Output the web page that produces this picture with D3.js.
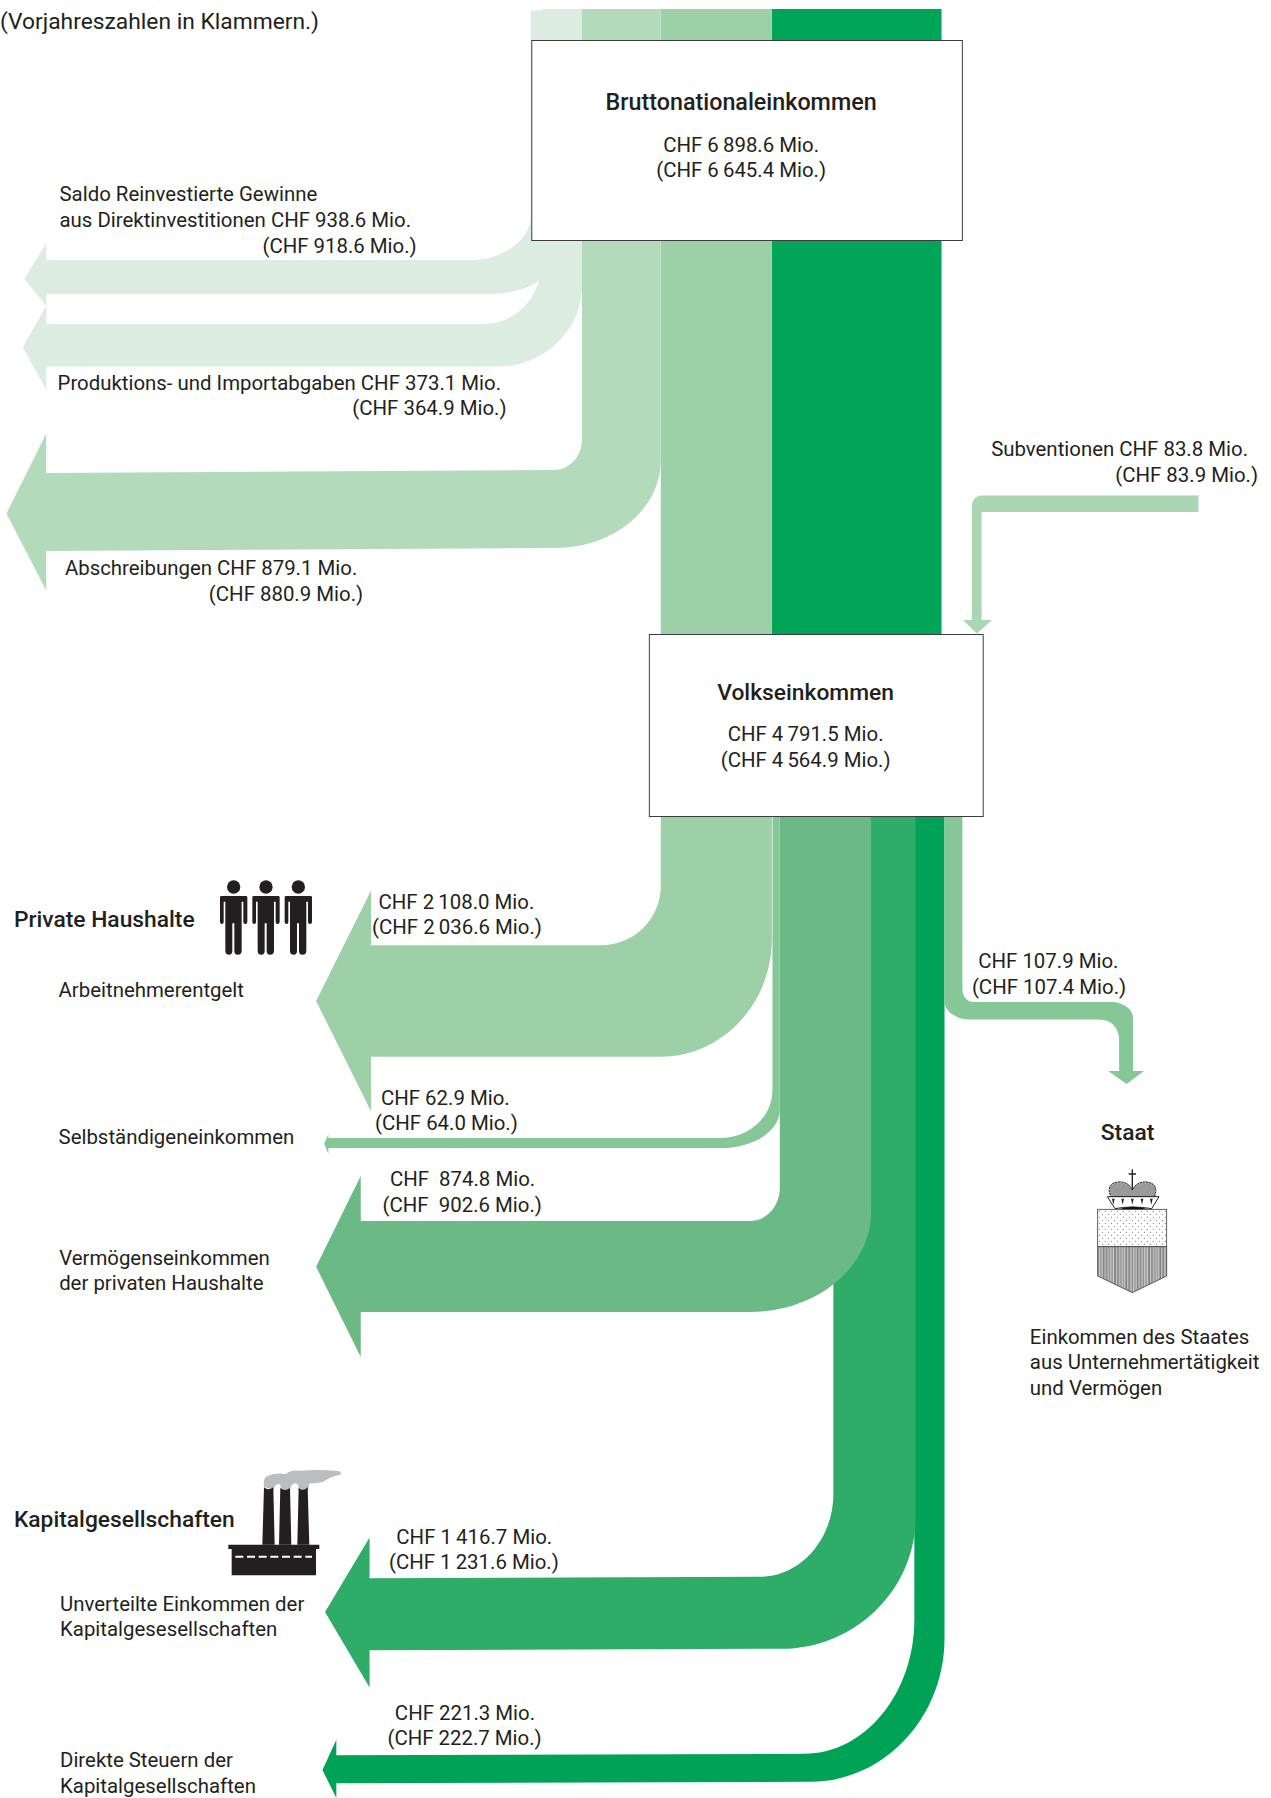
<!DOCTYPE html>
<html lang="de">
<head>
<meta charset="utf-8">
<script src="https://cdn.jsdelivr.net/npm/d3@7"></script>
<style>
    html, body { margin: 0; padding: 0; background: #fff; }
    svg { display: block; }
    text { font-family: Roboto, "Noto Sans", sans-serif; font-size: 20.4px; fill: #231f20; white-space: pre; }
    text.head { font-size: 22.8px; font-weight: 500; }
    text.big { font-size: 23.3px; font-weight: 500; }
    text.note { font-size: 22.8px; }
</style>
</head>
<body>
<svg></svg>
<script>
const width = 1271, height = 1798;

// Values as printed in the chart (CHF Mio.), previous year in the second list
const flowNames = ["saldo", "produktion", "abschreibungen", "arbeitnehmer", "selbstaendig",
    "vermoegen", "unverteilt", "steuern", "staat", "subventionen"];
const flowValues = [938.6, 373.1, 879.1, 2108.0, 62.9, 874.8, 1416.7, 221.3, 107.9, 83.8];
const flowPrevious = [918.6, 364.9, 880.9, 2036.6, 64.0, 902.6, 1231.6, 222.7, 107.4, 83.9];
const flowColors = ["#dcece0", "#dcece0", "#b4dabc", "#9ed0a8", "#86c797",
    "#6bba85", "#2eac68", "#00a356", "#86c797", "#aad6b3"];

const nodeNames = ["Bruttonationaleinkommen", "Volkseinkommen"];
const nodeValues = [6898.6, 4791.5];
const nodePrevious = [6645.4, 4564.9];

// The original is a schematic: band widths do not follow the values, so they are read off the picture
const stemWidth = d3.scaleOrdinal(flowNames, [21, 40.6, 79.4, 112, 7.4, 92, 83, 30.4, 18, 9.8]);
const barWidth = d3.scaleOrdinal(flowNames, [34, 42.5, 78, 111.5, 10, 91, 72, 28, 17.6, 16.5]);
const flowColor = d3.scaleOrdinal(flowNames, flowColors);

// horizontal readings were taken at a slightly different scale than the page
const x = d3.scaleLinear([0, 1271], [0, 1261]);

const locale = d3.formatLocale({ decimal: ".", thousands: "\u2009", grouping: [3], currency: ["", ""] });
const fmt = locale.format(",.1f");
const chf = (v, sep = " ") => `CHF${sep}${fmt(v)} Mio.`;
const value = name => flowValues[flowNames.indexOf(name)];
const previous = name => flowPrevious[flowNames.indexOf(name)];

const svg = d3.select("svg").attr("width", width).attr("height", height);

// Left-pointing arrows, back to front
const routes = [
    { name: "saldo", stem: 535, y0: 10.6, innerY: 216, innerX: 474, top: 260, outerY: 260, outerX: 494, drift: 0, headX: 46.6, tipX: 24.5, tipY: 279, barbTop: 243, barbBot: 306 },
    { name: "produktion", stem: 546, y0: 9, innerY: 262, innerX: 488.6, top: 324, outerY: 286, outerX: 502, drift: 0, headX: 46.6, tipX: 23, tipY: 347, barbTop: 306, barbBot: 390 },
    { name: "abschreibungen", stem: 586.6, y0: 9, innerY: 440, innerX: 558, top: 470, outerY: 461, outerX: 560, drift: 3, headX: 46.6, tipX: 6.5, tipY: 513.5, barbTop: 433.5, barbBot: 590.6 },
    { name: "steuern", stem: 921.6, y0: 800, innerY: 1619.5, innerX: 811, top: 1753.8, outerY: 1638.6, outerX: 817, drift: 1.5, headX: 339, tipX: 325, tipY: 1770, barbTop: 1739.7, barbBot: 1798 },
    { name: "unverteilt", stem: 840, y0: 800, innerY: 1493.7, innerX: 766, top: 1576.8, outerY: 1516.5, outerX: 788, drift: 1.5, headX: 372.5, tipX: 327.6, tipY: 1612, barbTop: 1537.5, barbBot: 1687.4 },
    { name: "vermoegen", stem: 786, y0: 800, innerY: 1188, innerX: 756, top: 1221, outerY: 1212, outerX: 756, drift: 0, headX: 363.6, tipX: 318.6, tipY: 1266.7, barbTop: 1176, barbBot: 1357 },
    { name: "selbstaendig", stem: 778.6, y0: 800, innerY: 1090, innerX: 727, top: 1138, outerY: 1110, outerX: 727, drift: 0, headX: 331, tipX: 326.8, tipY: 1143.7, barbTop: 1134, barbBot: 1154 },
    { name: "arbeitnehmer", stem: 666, y0: 800, innerY: 886, innerX: 606, top: 945.3, outerY: 939, outerX: 666, drift: 0, headX: 374, tipX: 318.6, tipY: 1001, barbTop: 890.6, barbBot: 1111.4 }
];

const k = 0.55;
function arrowPath(r) {
    const stemR = r.stem + stemWidth(r.name);
    const bot = r.top + barWidth(r.name);
    const p = d3.path();
    p.moveTo(x(r.stem), r.y0);
    p.lineTo(x(r.stem), r.innerY);
    p.bezierCurveTo(x(r.stem), r.innerY + k * (r.top - r.innerY), x(r.innerX + k * (r.stem - r.innerX)), r.top, x(r.innerX), r.top);
    p.lineTo(x(r.headX), r.top + r.drift);
    p.lineTo(x(r.headX), r.barbTop);
    p.lineTo(x(r.tipX), r.tipY);
    p.lineTo(x(r.headX), r.barbBot);
    p.lineTo(x(r.headX), bot + r.drift);
    p.lineTo(x(r.outerX), bot);
    p.bezierCurveTo(x(r.outerX + k * (stemR - r.outerX)), bot, x(stemR), r.outerY + k * (bot - r.outerY), x(stemR), r.outerY);
    p.lineTo(x(stemR), r.y0);
    p.closePath();
    return p.toString();
}

// Straight part of the trunk that runs through both boxes
svg.append("rect").attr("x", x(778)).attr("y", 9).attr("width", x(949) - x(778)).attr("height", 630).attr("fill", "#00a558");
svg.append("rect").attr("x", x(666)).attr("y", 9).attr("width", x(778) - x(666)).attr("height", 800).attr("fill", flowColor("arbeitnehmer"));

svg.selectAll("path.flow")
    .data(routes)
    .enter().append("path")
    .attr("class", "flow")
    .attr("d", arrowPath)
    .attr("fill", d => flowColor(d.name));

// Staat: leaves the box downwards, runs right, ends pointing down
{
    const w = stemWidth("staat"), x0 = 952, top = 1002, bot = top + barWidth("staat");
    const p = d3.path();
    p.moveTo(x(x0), 800);
    p.lineTo(x(x0), 1002);
    p.bezierCurveTo(x(x0), 1012, x(966), bot, x(976), bot);
    p.lineTo(x(1108), bot);
    p.bezierCurveTo(x(1120), bot, x(1128), 1028, x(1128), 1040);
    p.lineTo(x(1128), 1071);
    p.lineTo(x(1117), 1071);
    p.lineTo(x(1135.6), 1084);
    p.lineTo(x(1153), 1071);
    p.lineTo(x(1142), 1071);
    p.lineTo(x(1142), 1018);
    p.bezierCurveTo(x(1142), 1008, x(1130), top, x(1120), top);
    p.lineTo(x(982), top);
    p.bezierCurveTo(x(974), top, x(x0 + w), 996, x(x0 + w), 988);
    p.lineTo(x(x0 + w), 800);
    p.closePath();
    svg.append("path").attr("d", p.toString()).attr("fill", flowColor("staat"));
}

// Subventionen: comes in from the right, ends pointing down on the Volkseinkommen box
{
    const top = 495.5, bot = top + barWidth("subventionen"), xL = 979.6, xR = xL + stemWidth("subventionen");
    const p = d3.path();
    p.moveTo(x(1208), top);
    p.lineTo(x(990), top);
    p.bezierCurveTo(x(984), top, x(xL), 500, x(xL), 506);
    p.lineTo(x(xL), 620);
    p.lineTo(x(970.6), 620);
    p.lineTo(x(984.5), 633.5);
    p.lineTo(x(1000), 620);
    p.lineTo(x(xR), 620);
    p.lineTo(x(xR), bot);
    p.lineTo(x(1208), bot);
    p.closePath();
    svg.append("path").attr("d", p.toString()).attr("fill", flowColor("subventionen"));
}

// Boxes
const boxes = [
    { x0: 536, y: 40.5, x1: 970, h: 200, cx: 747, y1: 110.4, y2: 152, y3: 177 },
    { x0: 654.5, y: 634.5, x1: 991, h: 182, cx: 812, y1: 700, y2: 741, y3: 766.5 }
];
const boxG = svg.selectAll("g.box").data(boxes).enter().append("g").attr("class", "box");
boxG.append("rect")
    .attr("x", d => x(d.x0)).attr("y", d => d.y)
    .attr("width", d => x(d.x1) - x(d.x0)).attr("height", d => d.h)
    .attr("fill", "#fff").attr("stroke", "#3c3c3c").attr("stroke-width", 1);
boxG.append("text").attr("class", (d, i) => i === 0 ? "big" : "head").attr("text-anchor", "middle")
    .attr("x", d => x(d.cx)).attr("y", d => d.y1).text((d, i) => nodeNames[i]);
boxG.append("text").attr("text-anchor", "middle")
    .attr("x", d => x(d.cx)).attr("y", d => d.y2).text((d, i) => chf(nodeValues[i]));
boxG.append("text").attr("text-anchor", "middle")
    .attr("x", d => x(d.cx)).attr("y", d => d.y3).text((d, i) => `(${chf(nodePrevious[i])})`);

// Labels
const labels = [
    { x: 0, y: 28.6, note: true, t: "(Vorjahreszahlen in Klammern.)" },
    { x: 60, y: 200.8, t: "Saldo Reinvestierte Gewinne" },
    { x: 60, y: 226.5, t: `aus Direktinvestitionen ${chf(value("saldo"))}` },
    { x: 420, y: 253, end: true, t: `(${chf(previous("saldo"))})` },
    { x: 58, y: 390, t: `Produktions- und Importabgaben ${chf(value("produktion"))}` },
    { x: 510.6, y: 415, end: true, t: `(${chf(previous("produktion"))})` },
    { x: 999, y: 455.5, t: `Subventionen ${chf(value("subventionen"))}` },
    { x: 1268, y: 481.6, end: true, t: `(${chf(previous("subventionen"))})` },
    { x: 65.4, y: 575, t: `Abschreibungen ${chf(value("abschreibungen"))}` },
    { x: 366, y: 600.8, end: true, t: `(${chf(previous("abschreibungen"))})` },
    { x: 14, y: 927, head: true, t: "Private Haushalte" },
    { x: 381.5, y: 909, t: chf(value("arbeitnehmer")) },
    { x: 375, y: 934, t: `(${chf(previous("arbeitnehmer"))})` },
    { x: 59, y: 997, t: "Arbeitnehmerentgelt" },
    { x: 986, y: 967.8, t: chf(value("staat")) },
    { x: 979.6, y: 994, t: `(${chf(previous("staat"))})` },
    { x: 1136.5, y: 1140, head: true, middle: true, t: "Staat" },
    { x: 384, y: 1105, t: chf(value("selbstaendig")) },
    { x: 378, y: 1130, t: `(${chf(previous("selbstaendig"))})` },
    { x: 59, y: 1144, t: "Selbständigeneinkommen" },
    { x: 393, y: 1185.7, t: chf(value("vermoegen"), "  ") },
    { x: 385.6, y: 1212, t: `(${chf(previous("vermoegen"), "  ")})` },
    { x: 59.6, y: 1264.8, t: "Vermögenseinkommen" },
    { x: 59.6, y: 1289.6, t: "der privaten Haushalte" },
    { x: 1038, y: 1343.8, t: "Einkommen des Staates" },
    { x: 1038, y: 1369, t: "aus Unternehmertätigkeit" },
    { x: 1038, y: 1394.5, t: "und Vermögen" },
    { x: 14, y: 1527, head: true, t: "Kapitalgesellschaften" },
    { x: 399.5, y: 1543.5, t: chf(value("unverteilt")) },
    { x: 392, y: 1568.8, t: `(${chf(previous("unverteilt"))})` },
    { x: 60.5, y: 1610.8, t: "Unverteilte Einkommen der" },
    { x: 60.5, y: 1636, t: "Kapitalgesesellschaften" },
    { x: 398, y: 1720.4, t: chf(value("steuern")) },
    { x: 390.5, y: 1745, t: `(${chf(previous("steuern"))})` },
    { x: 60.5, y: 1767.4, t: "Direkte Steuern der" },
    { x: 60.5, y: 1793, t: "Kapitalgesellschaften" }
];
svg.selectAll("text.label")
    .data(labels)
    .enter().append("text")
    .attr("class", d => d.head ? "label head" : d.note ? "label note" : "label")
    .attr("x", d => x(d.x)).attr("y", d => d.y)
    .attr("text-anchor", d => d.end ? "end" : d.middle ? "middle" : "start")
    .text(d => d.t);

// Icon: three people
const people = svg.append("g").attr("transform", "translate(200,860) scale(0.3333)");
const personPath = "M64,108 H138 Q142,108 142,112 V186 Q142,192 136,192 Q130,192 130,186 V125 H125 V272 Q125,284 113,284 Q103,284 103,272 V190 H97 V272 Q97,284 87,284 Q76,284 76,272 V125 H71 V186 Q71,192 66,192 Q60,192 60,186 V112 Q60,108 64,108 Z";
[0, 97, 194].forEach(dx => {
    const g = people.append("g").attr("transform", `translate(${dx},0)`).attr("fill", "#231f20");
    g.append("circle").attr("cx", 101).attr("cy", 81).attr("r", 20);
    g.append("path").attr("d", personPath);
});

// Icon: factory
const factory = svg.append("g").attr("transform", "translate(210,1450) scale(0.3333)");
factory.append("path").attr("fill", "#bcbdc0")
    .attr("d", "M162,110 Q158,85 172,78 Q195,68 228,72 Q240,60 270,62 Q330,58 385,63 Q398,68 390,74 Q360,80 340,95 Q315,102 298,100 L295,120 H265 Q268,100 255,100 Q244,100 240,120 H212 Q214,102 205,102 Q195,102 190,120 Z");
factory.append("path").attr("fill", "#231f20")
    .attr("d", "M162,112 Q175,124 190,112 L194,284 H157 Z M211,114 Q225,126 240,114 L244,284 H207 Z M266,114 Q280,126 293,112 L298,284 H262 Z");
factory.append("path").attr("fill", "#231f20")
    .attr("d", "M55,284 H328 V297 H318 V376 H65 V297 H55 Z");
factory.append("line").attr("x1", 76).attr("x2", 306).attr("y1", 320).attr("y2", 320)
    .attr("stroke", "#fff").attr("stroke-width", 6).attr("stroke-dasharray", "24 11");

// Icon: coat of arms
const defs = svg.append("defs");
defs.append("pattern").attr("id", "dots").attr("width", 18).attr("height", 18).attr("patternUnits", "userSpaceOnUse")
    .call(pt => {
        pt.append("circle").attr("cx", 4).attr("cy", 4).attr("r", 1.6).attr("fill", "#555");
        pt.append("circle").attr("cx", 13).attr("cy", 13).attr("r", 1.6).attr("fill", "#555");
    });
defs.append("pattern").attr("id", "stripes").attr("width", 34).attr("height", 24).attr("patternUnits", "userSpaceOnUse")
    .call(pt => {
        pt.append("rect").attr("width", 34).attr("height", 24).attr("fill", "#cfcfcf");
        pt.append("rect").attr("x", 1).attr("width", 4).attr("height", 24).attr("fill", "#666");
        pt.append("rect").attr("x", 9).attr("width", 6).attr("height", 24).attr("fill", "#8a8a8a");
        pt.append("rect").attr("x", 19).attr("width", 3).attr("height", 24).attr("fill", "#707070");
        pt.append("rect").attr("x", 26).attr("width", 5).attr("height", 24).attr("fill", "#999");
    });
const arms = svg.append("g").attr("transform", "translate(1080,1150) scale(0.3333)");
arms.append("rect").attr("x", 53).attr("y", 178).attr("width", 207).attr("height", 112)
    .attr("fill", "url(#dots)").attr("stroke", "#444").attr("stroke-width", 2.5);
arms.append("path").attr("d", "M53,290 H260 V378 L157,428 L53,378 Z")
    .attr("fill", "url(#stripes)").attr("stroke", "#444").attr("stroke-width", 2.5);
arms.append("path").attr("fill", "#9a9a9a").attr("stroke", "#222").attr("stroke-width", 3)
    .attr("d", "M92,140 Q76,100 115,96 Q145,94 157,120 Q170,94 200,96 Q238,100 224,140 Z");
arms.append("path").attr("fill", "none").attr("stroke", "#fff").attr("stroke-width", 3).attr("stroke-dasharray", "3 6")
    .attr("d", "M92,138 Q78,102 115,98 Q145,96 157,120 Q170,96 200,98 Q236,102 224,138");
arms.append("path").attr("fill", "#fff").attr("stroke", "#222").attr("stroke-width", 3)
    .attr("d", "M82,140 H237 L215,176 Q157,166 105,176 Z");
arms.append("path").attr("fill", "#111").attr("d", "M115,178 Q157,162 205,178 Z");
arms.append("path").attr("stroke", "#222").attr("stroke-width", 4).attr("fill", "none")
    .attr("d", "M157,58 V120 M146,72 H168");
arms.selectAll("path.jewel").data([100, 128, 157, 186, 214]).enter().append("path")
    .attr("class", "jewel").attr("fill", "#222")
    .attr("d", d => `M${d - 4},146 H${d + 4} L${d},164 Z`);
</script>
</body>
</html>
